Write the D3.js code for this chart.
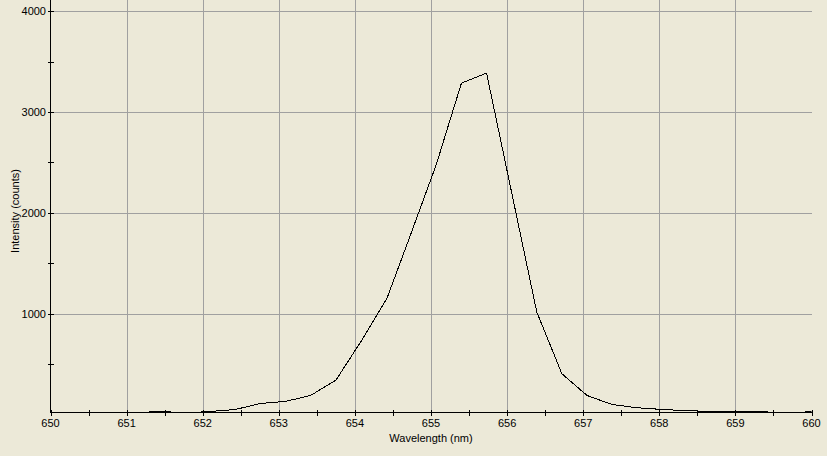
<!DOCTYPE html>
<html>
<head>
<meta charset="utf-8">
<script src="https://cdn.jsdelivr.net/npm/d3@7"></script>
<style>
  body { margin:0; background:#ECE9D8; }
  text { font-family: "Liberation Sans", Arial, sans-serif; font-size:11px; fill:#000; }
</style>
</head>
<body>
<div class="chart"></div>
<script>
// spectrum samples
const wavelengths = [650.12, 650.45, 650.78, 651.11, 651.44, 651.77, 652.10, 652.43, 652.76, 653.09,
    653.42, 653.75, 654.08, 654.42, 654.74, 655.07, 655.40, 655.73, 656.06, 656.39,
    656.72, 657.05, 657.38, 657.71, 658.04, 658.37, 658.70, 659.03, 659.36, 659.69, 660.02];
const counts = [12, 14, 10, 16, 32, 16, 30, 50, 110, 130,
    190, 340, 725, 1150, 1800, 2480, 3286, 3385, 2200, 1016,
    404, 189, 99, 67, 50, 38, 30, 30, 28, 14, 30];
const xTicks = [650, 651, 652, 653, 654, 655, 656, 657, 658, 659, 660];
const xMinor = [650.5, 651.5, 652.5, 653.5, 654.5, 655.5, 656.5, 657.5, 658.5, 659.5];
const yTicks = [1000, 2000, 3000, 4000];
const yMinor = [500, 1500, 2500, 3500];

let outWidth = 827, outHeight = 456;
let plotLeft = 50.5, plotRight = 811.5, plotTop = 0, plotBottom = 412.5;

const svg = d3.select('.chart').append('svg')
    .attr("width", outWidth)
    .attr("height", outHeight)
    .style("display", "block");

let x = d3.scaleLinear().domain([650, 660]).range([plotLeft, plotRight]);
let y = d3.scaleLinear().domain([20, 4110]).range([plotBottom, plotTop]);

svg.append("clipPath").attr("id", "plot")
    .append("rect").attr("x", plotLeft).attr("y", 0)
    .attr("width", plotRight - plotLeft).attr("height", plotBottom);

// grid
const grid = svg.append("g").attr("stroke", "#A0A0A0").attr("shape-rendering", "crispEdges");
grid.selectAll(".vg").data(xTicks.slice(1, -1)).join("line")
    .attr("x1", d => Math.round(x(d)) + 0.5).attr("x2", d => Math.round(x(d)) + 0.5)
    .attr("y1", plotTop).attr("y2", plotBottom);
grid.selectAll(".hg").data(yTicks).join("line")
    .attr("x1", plotLeft).attr("x2", plotRight)
    .attr("y1", d => Math.round(y(d)) + 0.5).attr("y2", d => Math.round(y(d)) + 0.5);

// data line
const line = d3.line().x((d, i) => x(wavelengths[i])).y(d => y(d));
svg.append("path")
    .datum(counts)
    .attr("clip-path", "url(#plot)")
    .attr("fill", "none")
    .attr("stroke", "#000")
    .attr("stroke-width", 1)
    .attr("shape-rendering", "crispEdges")
    .attr("d", line);

// axes
const ax = svg.append("g").attr("stroke", "#000").attr("shape-rendering", "crispEdges");
ax.append("line").attr("x1", plotLeft).attr("x2", plotLeft).attr("y1", plotTop).attr("y2", plotBottom);
ax.append("line").attr("x1", plotLeft).attr("x2", plotRight).attr("y1", plotBottom).attr("y2", plotBottom);

ax.selectAll(".xt").data(xTicks.concat(xMinor)).join("line")
    .attr("x1", d => Math.round(x(d)) + 0.5).attr("x2", d => Math.round(x(d)) + 0.5)
    .attr("y1", plotBottom - 3).attr("y2", plotBottom + 3);
ax.selectAll(".yt").data(yTicks.concat(yMinor)).join("line")
    .attr("x1", plotLeft - 3).attr("x2", plotLeft + 3)
    .attr("y1", d => Math.round(y(d)) + 0.5).attr("y2", d => Math.round(y(d)) + 0.5);

svg.selectAll(".xl").data(xTicks).join("text")
    .attr("x", d => x(d)).attr("y", 427)
    .attr("text-anchor", "middle")
    .text(d => d);
svg.selectAll(".yl").data(yTicks).join("text")
    .attr("x", 46).attr("y", d => y(d) + 4)
    .attr("text-anchor", "end")
    .text(d => d);

svg.append("text")
    .attr("x", 431).attr("y", 442)
    .attr("text-anchor", "middle")
    .text("Wavelength (nm)");
svg.append("text")
    .attr("transform", "translate(19,211) rotate(-90)")
    .attr("text-anchor", "middle")
    .text("Intensity (counts)");
</script>
</body>
</html>
